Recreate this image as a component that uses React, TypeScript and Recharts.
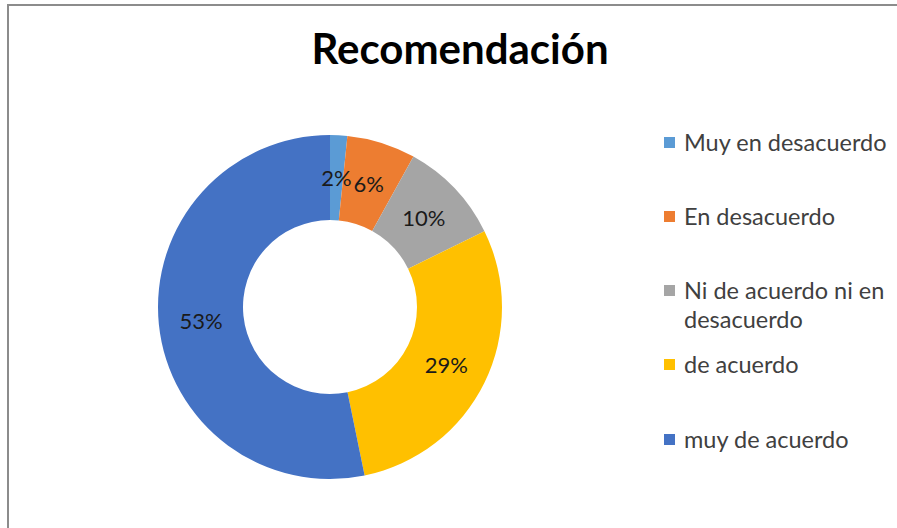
import React from 'react'
import { PieChart, Pie, Cell, Legend } from 'recharts'

const categories = [
  'Muy en desacuerdo',
  'En desacuerdo',
  'Ni de acuerdo ni en desacuerdo',
  'de acuerdo',
  'muy de acuerdo'
]
const counts = [1, 4, 6, 18, 33]
const colors = ['#5B9BD5', '#ED7D31', '#A5A5A5', '#FFC000', '#4472C4']

const data = categories.map((name, i) => ({ name, value: counts[i] }))

const FONT = 'Lato, "Open Sans", sans-serif'
const RAD = Math.PI / 180

const renderLabel = (props: any) => {
  const { cx, cy, midAngle, innerRadius, outerRadius, percent } = props
  const r = (innerRadius + outerRadius) / 2
  const x = cx + r * Math.cos(-midAngle * RAD)
  const y = cy + r * Math.sin(-midAngle * RAD)
  return (
    <text
      x={x}
      y={y}
      textAnchor="middle"
      dominantBaseline="central"
      fill="#1a1a1a"
      fontSize={22}
      fontFamily={FONT}
    >
      {`${Math.round(percent * 100)}%`}
    </text>
  )
}

// legend rows laid out like the office chart (the long label wraps)
const legendRows = [
  { lines: ['Muy en desacuerdo'], top: 0 },
  { lines: ['En desacuerdo'], top: 74 },
  { lines: ['Ni de acuerdo ni en', 'desacuerdo'], top: 148 },
  { lines: ['de acuerdo'], top: 222 },
  { lines: ['muy de acuerdo'], top: 297 }
]

const CustomLegend = () => (
  <div style={{ position: 'relative', width: 230, height: 330, fontFamily: FONT }}>
    {legendRows.map((row, i) => (
      <div key={categories[i]} style={{ position: 'absolute', left: 0, top: row.top }}>
        <span
          style={{
            position: 'absolute',
            left: 0,
            top: 9,
            width: 11,
            height: 11,
            background: colors[i]
          }}
        />
        <div style={{ marginLeft: 20, fontSize: 23.5, lineHeight: '29px', color: '#404040', whiteSpace: 'nowrap' }}>
          {row.lines.map((l) => (
            <div key={l}>{l}</div>
          ))}
        </div>
      </div>
    ))}
  </div>
)

export default function App() {
  return (
    <div style={{ position: 'absolute', left: 0, top: 0, width: 897, height: 528, background: '#fff', overflow: 'hidden' }}>
      <div
        style={{
          position: 'absolute',
          left: 7,
          top: 4,
          width: 900,
          height: 540,
          borderTop: '2px solid #8c8c8c',
          borderLeft: '2px solid #8c8c8c'
        }}
      />
      <div
        style={{
          position: 'absolute',
          left: 0,
          top: 23,
          width: 920,
          textAlign: 'center',
          fontFamily: FONT,
          fontWeight: 700,
          fontSize: 42,
          color: '#000'
        }}
      >
        Recomendación
      </div>
      <div style={{ position: 'absolute', left: 0, top: 0 }}>
        <PieChart width={897} height={528}>
          <Pie
            data={data}
            dataKey="value"
            nameKey="name"
            cx={325}
            cy={302}
            innerRadius={87}
            outerRadius={172}
            startAngle={90}
            endAngle={-270}
            stroke="none"
            label={renderLabel}
            labelLine={false}
            isAnimationActive={false}
          >
            {data.map((d, i) => (
              <Cell key={d.name} fill={colors[i]} />
            ))}
          </Pie>
          <Legend
            content={<CustomLegend />}
            wrapperStyle={{ position: 'absolute', left: 664, top: 128, width: 230 }}
          />
        </PieChart>
      </div>
    </div>
  )
}
